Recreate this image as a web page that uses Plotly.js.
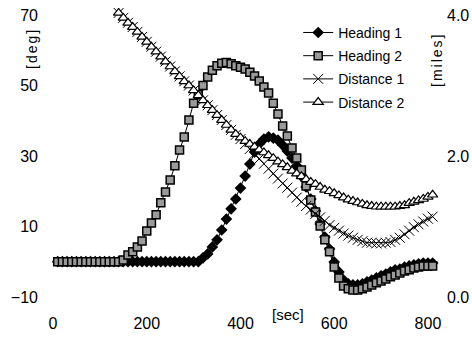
<!DOCTYPE html>
<html>
<head>
<meta charset="utf-8">
<script src="https://cdn.plot.ly/plotly-3.0.1.min.js"></script>
<style>html,body{margin:0;padding:0;background:#fff}#chart{width:472px;height:338px}</style>
</head>
<body>
<div id="chart"></div>
<script>
// time [sec] for heading series
const headingTime = [10,20,30,40,50,60,70,80,90,100,110,120,130,140,150,160,170,180,190,200,
  210,220,230,240,250,260,270,280,290,300,310,320,330,340,350,360,370,380,390,400,
  410,420,430,440,450,460,470,480,490,500,510,520,530,540,550,560,570,580,590,600,
  610,620,630,640,650,660,670,680,690,700,710,720,730,740,750,760,770,780,790,800,810];
// heading [deg]
const heading1 = [0,0,0,0,0,0,0,0,0,0,0,0,0,0,0,0,0,0,0,0,
  0,0,0,0,0,0,0,0,0,0,0,1.1,2.2,4.2,6.2,9.0,12.1,15.0,17.8,20.9,
  24.3,27.7,31.1,33.4,34.8,35.4,35.1,34.5,33.1,31.4,29.4,27.2,24.3,21.2,17.8,14.4,10.7,7.0,3.6,-0.1,
  -2.9,-5.2,-6.3,-6.6,-6.6,-6.3,-5.7,-5.2,-4.6,-4.0,-3.5,-2.9,-2.3,-2.1,-1.5,-1.2,-0.9,-0.6,-0.4,-0.4,-0.4];
const heading2 = [0,0,0,0,0,0,0,0,0,0,0,0,0,0,0.5,1.9,2.8,4.2,5.9,8.7,
  11.0,13.3,16.7,19.8,23.2,27.2,31.7,35.4,40.2,45.0,47.4,50.0,52.4,54.3,55.6,56.3,56.5,56.2,55.6,55.2,
  54.7,53.8,52.7,51.3,49.6,47.9,45.0,41.9,38.5,35.7,32.3,29.4,26.0,21.5,17.5,14.1,10.1,6.2,2.8,-1.5,
  -4.6,-6.9,-7.7,-8.0,-8.0,-7.7,-7.2,-6.6,-6.0,-5.5,-4.9,-4.3,-3.8,-3.2,-2.6,-2.3,-1.8,-1.5,-1.2,-1.2,-1.2];
// time [sec] for distance series
const distanceTime = [140,150,160,170,180,190,200,210,220,230,240,250,260,270,280,290,300,310,320,330,
  340,350,360,370,380,390,400,410,420,430,440,450,460,470,480,490,500,510,520,530,
  540,550,560,570,580,590,600,610,620,630,640,650,660,670,680,690,700,710,720,730,
  740,750,760,770,780,790,800,810];
// distance [miles]
const distance1 = [4.03,3.96,3.89,3.83,3.76,3.69,3.62,3.55,3.48,3.41,3.34,3.27,3.20,3.13,3.06,3.00,2.93,2.86,2.79,2.72,
  2.65,2.58,2.51,2.44,2.37,2.30,2.24,2.17,2.10,2.03,1.96,1.89,1.82,1.75,1.68,1.61,1.55,1.48,1.41,1.35,
  1.29,1.24,1.18,1.13,1.08,1.02,0.98,0.94,0.90,0.87,0.84,0.81,0.79,0.77,0.77,0.76,0.76,0.77,0.78,0.81,
  0.84,0.89,0.94,0.99,1.03,1.07,1.11,1.14];
const distance2 = [4.03,3.96,3.89,3.83,3.76,3.69,3.62,3.55,3.48,3.41,3.34,3.27,3.20,3.13,3.06,3.00,2.93,2.86,2.79,2.72,
  2.65,2.58,2.51,2.44,2.37,2.31,2.26,2.21,2.17,2.13,2.09,2.05,2.01,1.97,1.92,1.88,1.84,1.79,1.75,1.71,
  1.67,1.63,1.60,1.56,1.52,1.50,1.47,1.44,1.41,1.38,1.36,1.34,1.32,1.30,1.29,1.28,1.28,1.28,1.28,1.28,
  1.29,1.30,1.33,1.35,1.37,1.39,1.42,1.45];
const seriesNames = ['Heading 1','Heading 2','Distance 1','Distance 2'];
const xTicks = [0,200,400,600,800];
const yTicks = [-10,10,30,50,70];
const y2Ticks = [0,2,4];
const y2TickText = ['0.0','2.0','4.0'];

const FONT = 'Liberation Sans, Arial, sans-serif';
const traces = [
  {x: headingTime, y: heading1, name: seriesNames[0], legendgroup: 'a', mode: 'lines+markers', yaxis: 'y',
   line: {color: '#000', width: 1}, marker: {symbol: 'diamond', size: 9, color: '#000'}},
  {x: headingTime, y: heading2, name: seriesNames[1], legendgroup: 'b', mode: 'lines+markers', yaxis: 'y',
   line: {color: '#000', width: 1}, marker: {symbol: 'square', size: 8, color: '#9a9a9a', line: {color: '#000', width: 1.5}}},
  {x: distanceTime, y: distance1, name: seriesNames[2], legendgroup: 'c', mode: 'lines+markers', yaxis: 'y2',
   line: {color: '#000', width: 1}, marker: {symbol: 'x-thin', size: 10, color: '#000', line: {color: '#000', width: 1}}},
  {x: distanceTime, y: distance2, name: seriesNames[3], legendgroup: 'd', mode: 'lines+markers', yaxis: 'y2',
   line: {color: '#000', width: 1}, marker: {symbol: 'triangle-up', size: 9, color: '#fff', line: {color: '#000', width: 1.2}}}
];

const axisCommon = {showgrid: false, zeroline: false, showline: false, ticks: '',
  tickfont: {family: FONT, size: 16, color: '#000'}};

const layout = {
  width: 472, height: 338,
  margin: {l: 48, r: 30, t: 8, b: 34},
  paper_bgcolor: '#fff', plot_bgcolor: '#fff',
  font: {family: FONT, color: '#000'},
  showlegend: true,
  legend: {x: 0.635, y: 0.97, xanchor: 'left', yanchor: 'top', bgcolor: 'rgba(0,0,0,0)',
    font: {family: FONT, size: 14, color: '#000'}, tracegroupgap: 2},
  xaxis: Object.assign({}, axisCommon, {range: [-10.7, 830], tickvals: xTicks, ticklabelstandoff: 8}),
  yaxis: Object.assign({}, axisCommon, {range: [-12, 72], tickvals: yTicks, ticklabelstandoff: 9}),
  yaxis2: Object.assign({}, axisCommon, {range: [-0.1, 4.1], tickvals: y2Ticks, ticktext: y2TickText,
    overlaying: 'y', side: 'right', ticklabelstandoff: 4}),
  annotations: [
    {text: '<span style="letter-spacing:2px">[deg]</span>', xref: 'paper', yref: 'paper', x: (32-48)/394, y: (304-49)/296,
     xanchor: 'center', yanchor: 'middle', showarrow: false, textangle: -90, font: {family: FONT, size: 14, color: '#000'}},
    {text: '<span style="letter-spacing:2px">[miles]</span>', xref: 'paper', yref: 'paper', x: (437-48)/394, y: (304-60)/296,
     xanchor: 'center', yanchor: 'middle', showarrow: false, textangle: -90, font: {family: FONT, size: 14, color: '#000'}},
    {text: '[sec]', xref: 'paper', yref: 'paper', x: (288-48)/394, y: (304-315)/296,
     xanchor: 'center', yanchor: 'middle', showarrow: false, font: {family: FONT, size: 15, color: '#000'}}
  ]
};
Plotly.newPlot('chart', traces, layout, {staticPlot: true, displayModeBar: false});
</script>
</body>
</html>
